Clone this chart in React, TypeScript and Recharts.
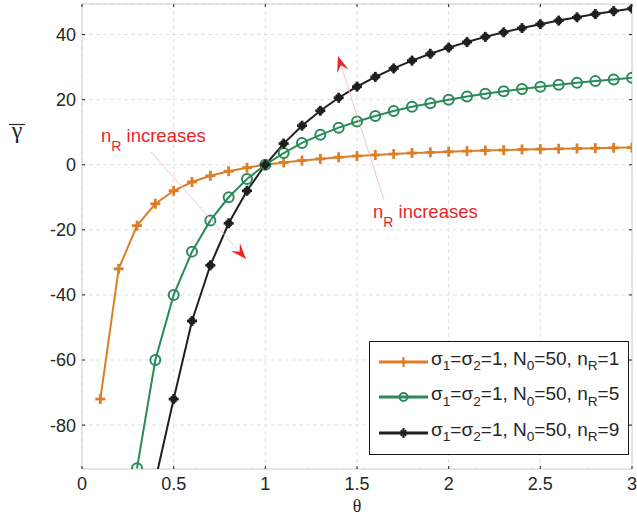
import React from 'react';
import { LineChart, Line, XAxis, YAxis, CartesianGrid, ReferenceArea, Legend } from 'recharts';

const THETA = [0.1, 0.2, 0.3, 0.4, 0.5, 0.6, 0.7, 0.8, 0.9, 1.0, 1.1, 1.2, 1.3, 1.4, 1.5, 1.6, 1.7, 1.8, 1.9, 2.0, 2.1, 2.2, 2.3, 2.4, 2.5, 2.6, 2.7, 2.8, 2.9, 3.0];
const NR1 = [-72, -32, -18.7, -12, -8, -5.3, -3.4, -2, -0.9, 0, 0.7, 1.3, 1.8, 2.3, 2.7, 3, 3.3, 3.6, 3.8, 4, 4.2, 4.4, 4.5, 4.7, 4.8, 4.9, 5, 5.1, 5.2, 5.3];
const NR5 = [null, null, -93.3, -60, -40, -26.7, -17.1, -10, -4.4, 0, 3.6, 6.7, 9.2, 11.4, 13.3, 15, 16.5, 17.8, 18.9, 20, 21, 21.8, 22.6, 23.3, 24, 24.6, 25.2, 25.7, 26.2, 26.7];
const NR9 = [null, null, null, -97, -72, -48, -30.9, -18, -8, 0, 6.5, 12, 16.6, 20.6, 24, 27, 29.6, 32, 34.1, 36, 37.7, 39.3, 40.7, 42, 43.2, 44.3, 45.3, 46.3, 47.2, 48];

const X_TICKS = [0, 0.5, 1, 1.5, 2, 2.5, 3];
const Y_TICKS = [-80, -60, -40, -20, 0, 20, 40];
const X_DOMAIN = [0, 3];
const Y_DOMAIN = [-93.5, 49.4];

const SERIES = [
  { key: 'nr1', nR: '1', color: '#DA7F28', marker: 'plus' },
  { key: 'nr5', nR: '5', color: '#2A8A5A', marker: 'circle' },
  { key: 'nr9', nR: '9', color: '#1f1f1f', marker: 'star' },
];

const data = THETA.map((t, i) => ({ theta: t, nr1: NR1[i], nr5: NR5[i], nr9: NR9[i] }));

const W = 637;
const H = 518;
const PLOT_LEFT = 82;
const PLOT_RIGHT = 632;
const PLOT_TOP = 4;
const PLOT_BOTTOM = 469;
const FONT = '"Liberation Sans", Arial, Helvetica, sans-serif';
const TXT = '#262626';
const RED = '#E8262B';

function Marker({ type, cx, cy, color, size = 5, sw = 2.4 }: any) {
  if (type === 'plus') {
    return (
      <g stroke={color} strokeWidth={sw} fill="none">
        <line x1={cx - size} y1={cy} x2={cx + size} y2={cy} />
        <line x1={cx} y1={cy - size} x2={cx} y2={cy + size} />
      </g>
    );
  }
  if (type === 'circle') {
    return <circle cx={cx} cy={cy} r={size} stroke={color} strokeWidth={sw} fill="none" />;
  }
  const d = size * 0.55;
  return (
    <g stroke={color} fill="none">
      <line x1={cx - size} y1={cy} x2={cx + size} y2={cy} strokeWidth={sw} />
      <line x1={cx} y1={cy - size} x2={cx} y2={cy + size} strokeWidth={sw} />
      <line x1={cx - d} y1={cy - d} x2={cx + d} y2={cy + d} strokeWidth={sw * 0.9} />
      <line x1={cx - d} y1={cy + d} x2={cx + d} y2={cy - d} strokeWidth={sw * 0.9} />
    </g>
  );
}

const makeDot = (s: any) => (props: any) => {
  const { cx, cy, index, value } = props;
  if (cx == null || cy == null || value == null) return <g key={`${s.key}-${index}`} />;
  return (
    <g key={`${s.key}-${index}`}>
      <Marker type={s.marker} cx={cx} cy={cy} color={s.color} size={5} sw={s.marker === 'circle' ? 2 : 2.8} />
    </g>
  );
};

const XTick = (props: any) => {
  const { x, y, payload } = props;
  return (
    <g>
      <line x1={x} y1={y} x2={x} y2={y - 3} stroke={TXT} strokeWidth={1} />
      <line x1={x} y1={PLOT_TOP} x2={x} y2={PLOT_TOP + 3} stroke={TXT} strokeWidth={1} />
      <text x={x} y={y + 21} textAnchor="middle" fontFamily={FONT} fontSize={18} fill={TXT}>
        {payload.value}
      </text>
    </g>
  );
};

const YTick = (props: any) => {
  const { x, y, payload } = props;
  return (
    <g>
      <line x1={x} y1={y} x2={x + 3} y2={y} stroke={TXT} strokeWidth={1} />
      <line x1={PLOT_RIGHT - 3} y1={y} x2={PLOT_RIGHT} y2={y} stroke={TXT} strokeWidth={1} />
      <text x={x - 6} y={y + 6.5} textAnchor="end" fontFamily={FONT} fontSize={18} fill={TXT}>
        {payload.value}
      </text>
    </g>
  );
};

const Sub = ({ children }: any) => (
  <span style={{ fontSize: '0.72em', position: 'relative', top: '0.4em' }}>{children}</span>
);

const LegendBox = () => (
  <div
    style={{
      width: 258,
      height: 110,
      border: '1px solid #1a1a1a',
      background: '#fff',
      fontFamily: FONT,
      fontSize: 19,
      color: TXT,
      boxSizing: 'content-box',
      paddingTop: 2,
    }}
  >
    {SERIES.map((s) => (
      <div key={s.key} style={{ display: 'flex', alignItems: 'center', height: 35.5, whiteSpace: 'nowrap', lineHeight: '20px' }}>
        <svg width={62} height={20} style={{ marginLeft: 8, flex: 'none' }}>
          <line x1={1} y1={10} x2={50} y2={10} stroke={s.color} strokeWidth={3} />
          <Marker type={s.marker} cx={25.5} cy={10} color={s.color} size={s.marker === 'circle' ? 4 : 5} sw={s.marker === 'circle' ? 2 : 2.2} />
        </svg>
        <span style={{ marginLeft: -9, marginTop: -4 }}>
          σ<Sub>1</Sub>=σ<Sub>2</Sub>=1, N<Sub>0</Sub>=50, n<Sub>R</Sub>={s.nR}
        </span>
      </div>
    ))}
  </div>
);

function arrowHead(tx: number, ty: number, fx: number, fy: number, L = 16, Wd = 12) {
  const dx = tx - fx;
  const dy = ty - fy;
  const len = Math.hypot(dx, dy);
  const ux = dx / len;
  const uy = dy / len;
  const vx = -uy;
  const vy = ux;
  const p1 = [tx, ty];
  const p2 = [tx - L * ux + (Wd / 2) * vx, ty - L * uy + (Wd / 2) * vy];
  const p3 = [tx - 0.6 * L * ux, ty - 0.6 * L * uy];
  const p4 = [tx - L * ux - (Wd / 2) * vx, ty - L * uy - (Wd / 2) * vy];
  return [p1, p2, p3, p4].map((p) => p.join(',')).join(' ');
}

const Annotation = ({ tx, ty, fx, fy, lx, ly }: any) => (
  <g>
    <line x1={fx} y1={fy} x2={tx} y2={ty} stroke="#F5B5BB" strokeWidth={0.8} />
    <polygon points={arrowHead(tx, ty, fx, fy)} fill={RED} />
    <text x={lx} y={ly} fontFamily={FONT} fontSize={18.5} fill={RED}>
      n
      <tspan fontSize={14} dy={9}>R</tspan>
      <tspan dy={-9}> increases</tspan>
    </text>
  </g>
);

export default function App() {
  return (
    <div style={{ position: 'absolute', left: 0, top: 0, width: W, height: H, background: '#fff' }}>
      <LineChart width={W} height={H} data={data} margin={{ top: PLOT_TOP, right: W - PLOT_RIGHT, left: 0, bottom: 0 }}>
        <CartesianGrid stroke="#e2e2e2" strokeDasharray="4 3" />
        <XAxis
          dataKey="theta"
          type="number"
          domain={X_DOMAIN}
          ticks={X_TICKS}
          height={H - PLOT_BOTTOM}
          axisLine={false}
          tickLine={false}
          tickSize={0}
          tickMargin={0}
          tick={<XTick />}
          allowDataOverflow
        />
        <YAxis
          type="number"
          domain={Y_DOMAIN}
          ticks={Y_TICKS}
          width={PLOT_LEFT}
          axisLine={false}
          tickLine={false}
          tickSize={0}
          tickMargin={0}
          tick={<YTick />}
          allowDataOverflow
        />
        <ReferenceArea x1={X_DOMAIN[0]} x2={X_DOMAIN[1]} y1={Y_DOMAIN[0]} y2={Y_DOMAIN[1]} fill="none" stroke="#d2d2d2" strokeWidth={1} ifOverflow="visible" />
        {SERIES.map((s) => (
          <Line
            key={s.key}
            dataKey={s.key}
            type="linear"
            stroke={s.color}
            strokeWidth={2}
            dot={makeDot(s)}
            activeDot={false}
            isAnimationActive={false}
            connectNulls={false}
          />
        ))}
        <Legend
          layout="vertical"
          align="center"
          verticalAlign="middle"
          content={() => <LegendBox />}
          wrapperStyle={{ position: 'absolute', left: 369, top: 341, width: 262, height: 114 }}
        />
      </LineChart>
      <svg width={W} height={H} style={{ position: 'absolute', left: 0, top: 0, pointerEvents: 'none' }}>
        <Annotation fx={151} fy={152} tx={246} ty={259} lx={101} ly={142} />
        <Annotation fx={384} fy={200} tx={338} ty={56} lx={373} ly={218} />
        <text x={357} y={512} textAnchor="middle" fontFamily='"Liberation Serif", serif' fontSize={18} fill={TXT}>θ</text>
        <line x1={9} y1={124.5} x2={25} y2={124.5} stroke={TXT} strokeWidth={1.2} />
        <text x={17} y={138} textAnchor="middle" fontFamily='"Liberation Serif", serif' fontSize={24} fill={TXT}>γ</text>
      </svg>
    </div>
  );
}
